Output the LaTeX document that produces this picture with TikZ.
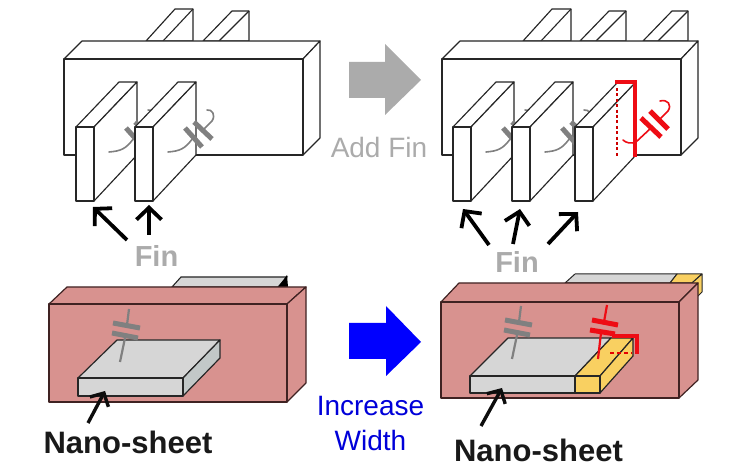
\documentclass[tikz,border=0pt]{standalone}
\usepackage{fontspec}
\setmainfont{Liberation Sans}
\usetikzlibrary{arrows.meta}
\definecolor{edge}{HTML}{262626}
\definecolor{pinkbox}{HTML}{D8928F}
\definecolor{pinkedge}{HTML}{3F2222}
\definecolor{sheet}{HTML}{D6D6D6}
\definecolor{sheetside}{HTML}{C2C8C8}
\definecolor{gold}{HTML}{F9D061}
\definecolor{capgray}{HTML}{808080}
\definecolor{lblgray}{HTML}{ABABAB}
\definecolor{redline}{HTML}{EE0C14}
\tikzset{
  box/.style={draw=edge,line width=1.15pt,line join=round,fill=white},
  pbox/.style={draw=pinkedge,line width=1.2pt,line join=round,fill=pinkbox},
  sbox/.style={draw=black!85,line width=1.2pt,line join=round},
  plate/.style={line width=5pt},
  lead/.style={line width=1.6pt,line cap=round},
  ptr/.style={line width=3.8pt,draw=black,-{Straight Barb[length=12pt,width=25pt]}},
  ptrs/.style={line width=3.4pt,draw=black!95,-{Straight Barb[length=10pt,width=21pt]}},
  lbl/.style={anchor=base,inner sep=0pt,font=\fontsize{28}{30}\selectfont},
  nano/.style={anchor=base,inner sep=0pt,font=\fontsize{31}{33}\selectfont\bfseries,text=black!90},
  redbar/.style={draw=redline,line width=3.2pt,line join=miter}
}
% main fin block, without back fins
\newcommand{\finblock}[1]{\begin{scope}[shift={(#1,0)}]
  \draw[box] (0,59) -- (18,41) -- (256,41) -- (239,59) -- cycle;
  \draw[box] (239,59) -- (256,41) -- (256,138) -- (239,155) -- cycle;
  \draw[box] (0,59) rectangle (239,155);
\end{scope}}
\newcommand{\backfin}[3]{\draw[box] (#1,41) -- (#1+29,#3) -- (#2,#3) -- (#2,41) -- cycle;
  \draw[edge,line width=1.1pt] (#2-30,41) -- (#2,#3);}
\newcommand{\frontfin}[1]{\begin{scope}[shift={(#1,0)}]
  \draw[box] (0,127) -- (43,82) -- (61,82) -- (18,127) -- cycle;
  \draw[box] (18,127) -- (61,82) -- (61,155) -- (18,201) -- cycle;
  \draw[box] (0,127) rectangle (18,201);
\end{scope}}
\newcommand{\fincap}[1]{\begin{scope}[shift={(#1,0)}]
  \draw[plate,capgray] (185,128) -- (202,147);
  \draw[plate,capgray] (194,122) -- (212,139);
  \draw[lead,capgray] (193,138) .. controls (185,149) and (180,151) .. (168,152);
  \draw[lead,capgray] (203,130) -- (212,121) .. controls (216,115) and (212,109) .. (207,110);
\end{scope}}
\newcommand{\sheetcap}[2]{\begin{scope}[shift={(#1,#2)}]
  \draw[plate,capgray] (113,323) -- (140,328);
  \draw[plate,capgray] (112,333) -- (138,338);
  \draw[capgray,line width=2.2pt] (129,309) -- (127,325);
  \draw[capgray,line width=2.2pt] (125,338) -- (120,362);
\end{scope}}
\begin{document}
\begin{tikzpicture}[x=1pt,y=-1pt]
\useasboundingbox (0,0) rectangle (750,470);

% ---------- top left ----------
\backfin{146}{193}{9}
\backfin{203}{249}{11}
\finblock{64}
\frontfin{76}
\fincap{-59}
\frontfin{135}
\fincap{0}

% ---------- top right ----------
\backfin{523}{571}{9}
\backfin{580}{626}{11}
\backfin{643}{688}{11}
\finblock{442}
\frontfin{453}
\fincap{318}
\frontfin{512}
\fincap{377}
\frontfin{575}
\draw[redbar] (615,82) -- (635,82) -- (635,157);
\draw[draw=red!80!black,line width=1.8pt,dash pattern=on 3pt off 2.4pt] (617,88) -- (617,157);
\draw[plate,redline] (641,118) -- (661,137);
\draw[plate,redline] (650,111) -- (668,129);
\draw[lead,redline] (651,128) -- (636,142) .. controls (631,144) and (626,143) .. (623,140);
\draw[lead,redline] (659,120) -- (668,111) .. controls (672,105) and (668,99) .. (660,101);

% ---------- central block arrows ----------
\fill[lblgray] (349,62) -- (385,62) -- (385,44) -- (421,80) -- (385,115) -- (385,98) -- (349,98) -- cycle;
\fill[blue] (349,323) -- (386,323) -- (386,306) -- (421,342) -- (386,376) -- (386,359) -- (349,359) -- cycle;
\node[lbl,text=lblgray] (addfin) at (379,158) {Add Fin};
\node[lbl,text=blue!85!black] (incr) at (370.5,415) {Increase};
\node[lbl,text=blue!85!black] (width) at (370.5,450) {Width};

% ---------- fin labels and pointers ----------
\node[lbl,text=lblgray,font=\fontsize{29}{30}\selectfont\bfseries] (finl) at (156.5,267) {Fin};
\node[lbl,text=lblgray,font=\fontsize{29}{30}\selectfont\bfseries] (finr) at (517,273) {Fin};
\coordinate (la) at (127,240); \coordinate (lat) at (93,207);
\coordinate (lb) at (149,235); \coordinate (lbt) at (149,205);
\coordinate (ra) at (489,245); \coordinate (rat) at (463,209);
\coordinate (rb) at (513,244); \coordinate (rbt) at (520,209);
\coordinate (rc) at (548,244); \coordinate (rct) at (578,212);
\draw[ptr] (la) -- (lat);
\draw[ptr] (lb) -- (lbt);
\draw[ptr] (ra) -- (rat);
\draw[ptr] (rb) -- (rbt);
\draw[ptr] (rc) -- (rct);

% ---------- bottom left ----------
\fill[sheet,draw=black!85,line width=1.1pt] (172,287) -- (181,277) -- (287,277) -- (278,287) -- cycle;
\fill[black] (278,287) -- (287,275) -- (288,287) -- cycle;
\draw[pbox] (49,304) -- (67,287) -- (306,287) -- (287,304) -- cycle;
\draw[pbox] (287,304) -- (306,287) -- (306,383) -- (287,402) -- cycle;
\draw[pbox] (49,304) rectangle (287,402);
\draw[sbox,fill=sheet] (78,378) -- (117,340) -- (220,340) -- (183,378) -- cycle;
\draw[sbox,fill=sheetside] (183,378) -- (220,340) -- (220,358) -- (183,396) -- cycle;
\draw[sbox,fill=sheet] (78,378) rectangle (183,396);
\sheetcap{0}{0}
\node[nano] (nanol) at (128,453) {Nano-sheet};
\coordinate (nl) at (88,423); \coordinate (nlt) at (105,391);
\draw[ptrs] (nl) -- (nlt);

% ---------- bottom right ----------
\draw[sbox,fill=sheet,line width=1pt] (565,283) -- (575,274) -- (677,274) -- (670,283) -- cycle;
\draw[sbox,fill=gold,line width=1pt] (670,283) -- (677,274) -- (702,274) -- (692,283) -- cycle;
\draw[sbox,fill=gold,line width=1pt] (692,283) -- (702,274) -- (702,292) -- (692,302) -- cycle;
\draw[pbox] (441,302) -- (459,283) -- (698,283) -- (679,302) -- cycle;
\draw[pbox] (679,302) -- (698,283) -- (698,380) -- (679,398) -- cycle;
\draw[pbox] (441,302) rectangle (679,398);
\draw[sbox,fill=sheet] (470,376) -- (508,338) -- (611,338) -- (575,376) -- cycle;
\draw[sbox,fill=gold] (575,376) -- (611,338) -- (633,338) -- (600,376) -- cycle;
\draw[sbox,fill=gold] (600,376) -- (633,338) -- (633,356) -- (600,393) -- cycle;
\draw[sbox,fill=sheet] (470,376) rectangle (575,393);
\draw[sbox,fill=gold] (575,376) rectangle (600,393);
\sheetcap{392}{-3}
\draw[plate,redline] (592,320) -- (618,325);
\draw[plate,redline] (590,330) -- (615,334);
\draw[redline,line width=2.2pt] (607,305) -- (604,322);
\draw[redline,line width=2.2pt] (601,333) -- (598,359);
\draw[redbar] (612,336) -- (637,336) -- (637,354);
\draw[draw=red!90!black,line width=1.5pt,dash pattern=on 4pt off 3pt] (610,353) -- (632,353);
\node[nano] (nanor) at (538.5,461) {Nano-sheet};
\coordinate (nr) at (481,426); \coordinate (nrt) at (502,388);
\draw[ptrs] (nr) -- (nrt);
\end{tikzpicture}
\end{document}
